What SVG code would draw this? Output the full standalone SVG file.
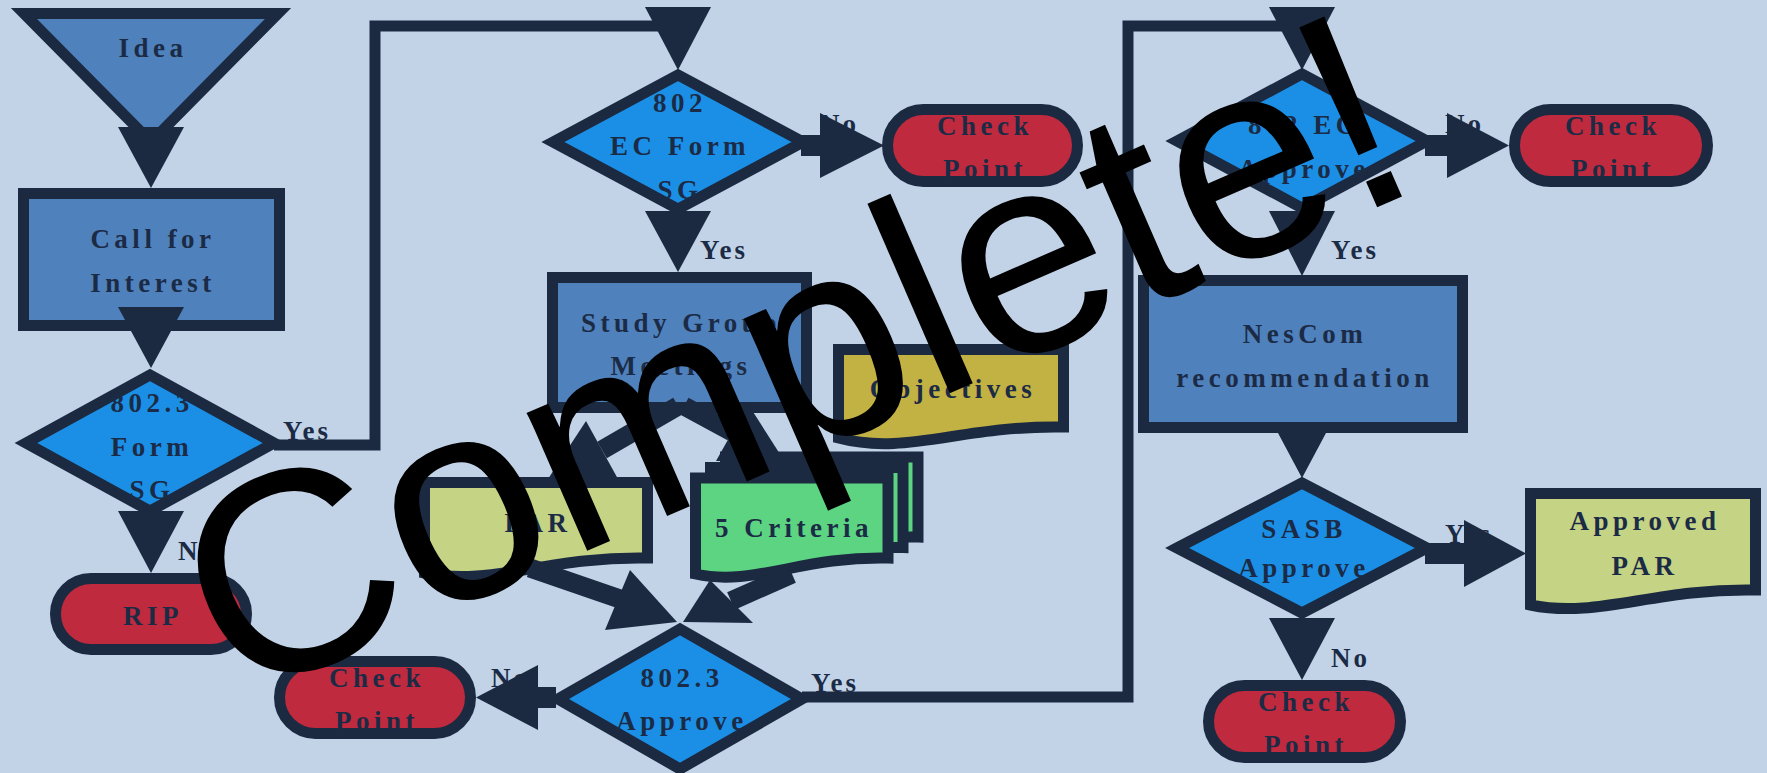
<svg xmlns="http://www.w3.org/2000/svg" width="1767" height="773" viewBox="0 0 1767 773">
<defs>
<style>
.n{stroke:#1B2A40;stroke-width:11;stroke-linejoin:miter;stroke-miterlimit:10}
.proc{fill:#4F81BD}
.dec{fill:#1B8FE6}
.term{fill:#C02A3E}
.doc{fill:#C4D384}
.obj{fill:#C2B143}
.crit{fill:#5CD482}
.t{font-family:"Liberation Serif","Times New Roman",serif;font-weight:bold;font-size:27px;letter-spacing:4.5px;fill:#1C2B45;text-anchor:middle}
.lb{font-family:"Liberation Serif","Times New Roman",serif;font-weight:bold;font-size:27px;letter-spacing:3px;fill:#1C2B45}
.ah{fill:#1B2A40}
.ln{fill:none;stroke:#1B2A40;stroke-width:11;stroke-linejoin:miter}
.thick{fill:none;stroke:#1B2A40;stroke-width:19}
.wm{font-family:"Liberation Sans",Arial,sans-serif;font-size:285px;fill:#000000}
</style>
</defs>
<rect width="1767" height="773" fill="#C2D3E8"/>

<g id="idea"><polygon class="n proc" points="24,13.5 278,13.5 151,142"/><text class="t" x="153" y="57">Idea</text></g>
<g id="call"><rect class="n proc" x="23.5" y="193.5" width="256" height="132"/><text class="t" x="153" y="248">Call for</text><text class="t" x="153" y="292">Interest</text></g>
<g id="form"><polygon class="n dec" points="26,443 150,375 274,443 150,511"/><text class="t" x="152" y="412">802.3</text><text class="t" x="152" y="456">Form</text><text class="t" x="152" y="499">SG</text></g>
<g id="rip"><rect class="n term" x="55.5" y="578.5" width="191" height="71" rx="35.5"/><text class="t" x="153" y="625">RIP</text></g>
<g id="ecform"><polygon class="n dec" points="553,142 678,75 803,142 678,209"/><text class="t" x="680" y="112">802</text><text class="t" x="680" y="155">EC Form</text><text class="t" x="680" y="199">SG</text></g>
<g id="cp1"><rect class="n term" x="887.5" y="109.5" width="190" height="72" rx="36"/><text class="t" x="985" y="135">Check</text><text class="t" x="985" y="178">Point</text></g>
<g id="sg"><rect class="n proc" x="552.5" y="277.5" width="254" height="130"/><text class="t" x="681" y="332">Study Group</text><text class="t" x="681" y="375">Meetings</text></g>
<g id="objectives"><path class="n obj" d="M838.5,349.5 H1063.5 V427 C962,425 906,456 838.5,438 Z"/><text class="t" x="953" y="398">Objectives</text></g>
<g id="par"><path class="n doc" d="M424.5,482.5 H647.5 V558 C547,556 491,587 424.5,573 Z"/><text class="t" x="538" y="532">PAR</text></g>
<g id="criteria">
<path class="n crit" d="M725.5,457 H918 V537 C831,535 783,566 725.5,553 Z"/>
<path class="n crit" d="M710.5,467.5 H903 V547.5 C816,545.5 768,576.5 710.5,563.5 Z"/>
<path class="n crit" d="M695.5,478 H888 V558 C801,556 753,587 695.5,574 Z"/>
<text class="t" x="794" y="537">5 Criteria</text></g>
<g id="approve3"><polygon class="n dec" points="558,699 680,629 802,699 680,769"/><text class="t" x="682" y="687">802.3</text><text class="t" x="682" y="730">Approve</text></g>
<g id="cp2"><rect class="n term" x="279.5" y="661.5" width="191" height="72" rx="36"/><text class="t" x="377" y="687">Check</text><text class="t" x="377" y="730">Point</text></g>
<g id="ecapprove"><polygon class="n dec" points="1177,141 1302,74 1427,141 1302,208"/><text class="t" x="1304" y="134">802 EC</text><text class="t" x="1304" y="178">Approve</text></g>
<g id="cp3"><rect class="n term" x="1514.5" y="109.5" width="193" height="72" rx="36"/><text class="t" x="1613" y="135">Check</text><text class="t" x="1613" y="178">Point</text></g>
<g id="nescom"><rect class="n proc" x="1143.5" y="280.5" width="319" height="147"/><text class="t" x="1305" y="343">NesCom</text><text class="t" x="1305" y="387">recommendation</text></g>
<g id="sasb"><polygon class="n dec" points="1177,548 1302,483 1427,548 1302,613"/><text class="t" x="1304" y="538">SASB</text><text class="t" x="1304" y="577">Approve</text></g>
<g id="approvedpar"><path class="n doc" d="M1530.5,493.5 H1755.5 V590 C1654,588 1598,619 1530.5,605 Z"/><text class="t" x="1645" y="530">Approved</text><text class="t" x="1645" y="575">PAR</text></g>
<g id="cp4"><rect class="n term" x="1208.5" y="685.5" width="192" height="72" rx="36"/><text class="t" x="1306" y="711">Check</text><text class="t" x="1306" y="754">Point</text></g>

<g id="labels">
<text class="lb" x="283" y="440">Yes</text>
<text class="lb" x="178" y="560">No</text>
<text class="lb" x="820" y="133">No</text>
<text class="lb" x="700" y="259">Yes</text>
<text class="lb" x="491" y="687">No</text>
<text class="lb" x="811" y="692">Yes</text>
<text class="lb" x="1445" y="133">No</text>
<text class="lb" x="1331" y="259">Yes</text>
<text class="lb" x="1445" y="543">Yes</text>
<text class="lb" x="1331" y="667">No</text>
</g>

<g id="connectors">
<polygon class="ah" points="118,127 184,127 151,188"/>
<polygon class="ah" points="118,307 184,307 151,368"/>
<polygon class="ah" points="118,511 184,511 151,573"/>
<polyline class="ln" points="274,445 375,445 375,26 678,26"/>
<polygon class="ah" points="645,7 711,7 678,70"/>
<rect class="ah" x="801" y="135" width="20" height="21"/>
<polygon class="ah" points="820,113 820,178 884,145.5"/>
<polygon class="ah" points="645,211 711,211 678,272"/>
<line class="thick" x1="678" y1="406" x2="602" y2="450"/>
<polygon class="ah" points="548,479 586,421 618,479"/>
<line class="thick" x1="684" y1="406" x2="732" y2="432"/>
<polygon class="ah" points="785,462 748,404 716,461"/>
<line class="thick" x1="530" y1="568" x2="620" y2="599"/>
<polygon class="ah" points="630,570 605,630 677,622"/>
<line class="thick" x1="792" y1="574" x2="731" y2="601"/>
<polygon class="ah" points="710,580 753,623 683,622"/>
<rect class="ah" x="537" y="687" width="19" height="21"/>
<polygon class="ah" points="538,665 538,730 476,697.5"/>
<polyline class="ln" points="802,697 1128,697 1128,26 1302,26"/>
<polygon class="ah" points="1269,7 1335,7 1302,70"/>
<rect class="ah" x="1425" y="135" width="23" height="21"/>
<polygon class="ah" points="1447,113 1447,178 1509,145.5"/>
<polygon class="ah" points="1269,211 1335,211 1302,276"/>
<polygon class="ah" points="1278,433 1326,433 1302,478"/>
<rect class="ah" x="1425" y="543" width="40" height="21"/>
<polygon class="ah" points="1464,520 1464,587 1526,553.5"/>
<polygon class="ah" points="1269,618 1335,618 1302,680"/>
</g>

<g id="watermark"><text class="wm" transform="translate(235,704) rotate(-23.5)">Complete!</text></g>
</svg>
